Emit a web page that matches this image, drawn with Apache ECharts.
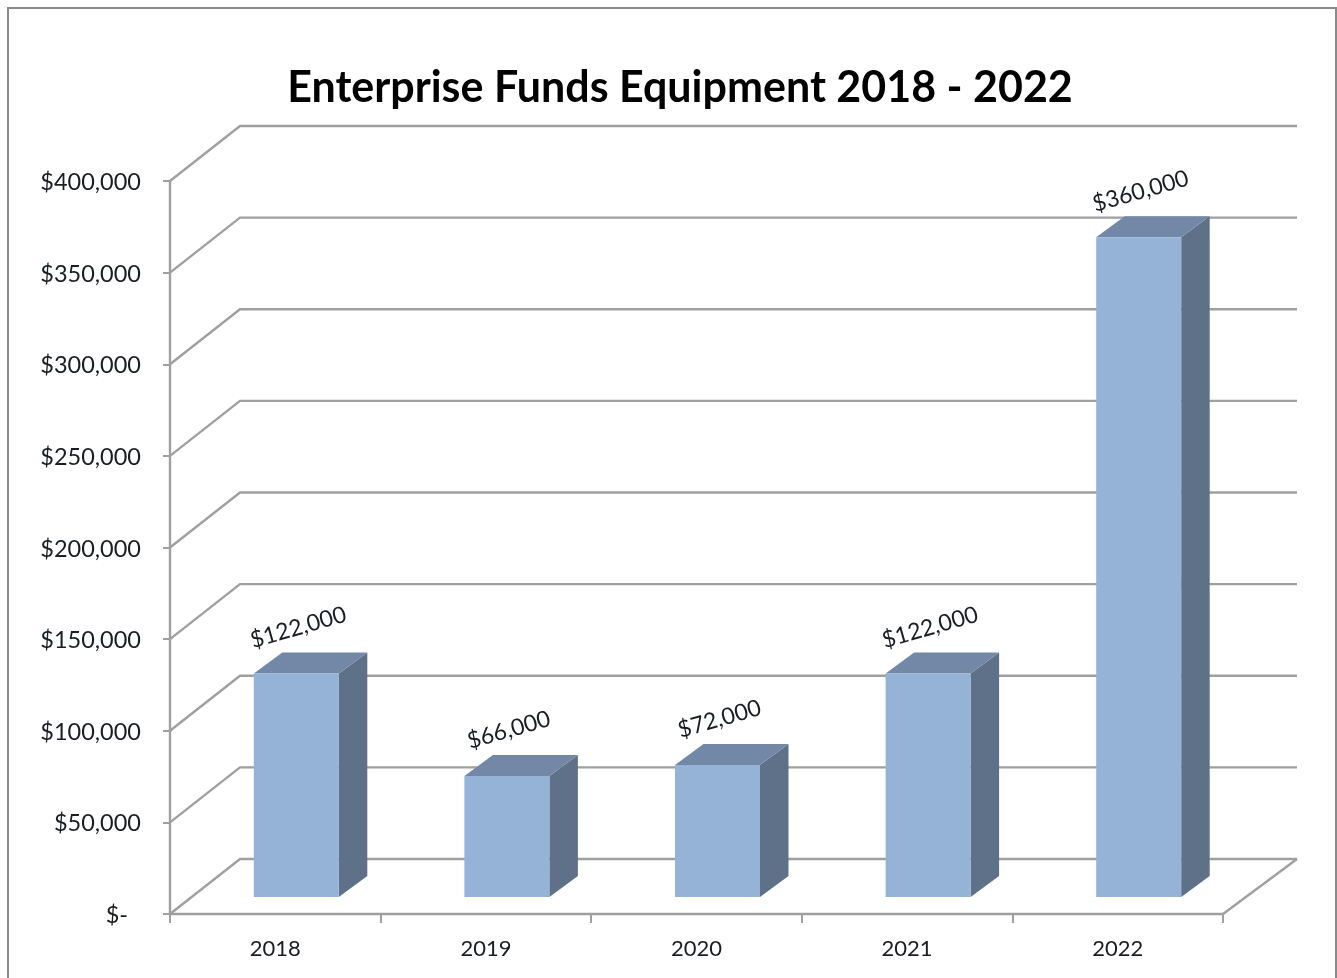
<!DOCTYPE html>
<html>
<head>
<meta charset="utf-8">
<style>html,body{margin:0;padding:0;background:#fff}#c{width:1337px;height:978px}</style>
<script src="https://cdn.jsdelivr.net/npm/echarts@6/dist/echarts.min.js"></script>
</head>
<body>
<div id="c"></div>
<script>
const titleText = 'Enterprise Funds Equipment 2018 - 2022';
const categories = ['2018', '2019', '2020', '2021', '2022'];
const values = [122000, 66000, 72000, 122000, 360000];
const valueLabels = ['$122,000', '$66,000', '$72,000', '$122,000', '$360,000'];
const tickValues = [0, 50000, 100000, 150000, 200000, 250000, 300000, 350000, 400000];

const FONT = 'Lato';
const GRID_COLOR = '#a0a0a0';
const TEXT = '#1a1e24';
const wallLeftDx = 70, wallRightDx = 74, wallDy = 55;
const barDx = 21, barDy = 17, barW = 85, depthX = 28.5, depthY = 21;

const chart = echarts.init(document.getElementById('c'), null, {renderer: 'canvas'});

function renderWall(params, api) {
  const cs = params.coordSys;
  const p = api.coord([0, api.value(1)]);
  const xL = cs.x, xR = cs.x + cs.width, y = p[1];
  const lineStyle = {stroke: GRID_COLOR, lineWidth: 2.4, fill: null};
  const children = [{
    type: 'polyline',
    shape: {points: [[xL, y], [xL + wallLeftDx, y - wallDy], [xR + wallRightDx, y - wallDy]]},
    style: lineStyle, silent: true
  }];
  if (api.value(1) === 0) {
    children.push({
      type: 'line',
      shape: {x1: xR, y1: y, x2: xR + wallRightDx, y2: y - wallDy},
      style: lineStyle, silent: true
    });
  }
  return {type: 'group', children};
}

function renderBar(params, api) {
  const i = api.value(0);
  const top = api.coord([i, api.value(1)]);
  const base = api.coord([i, 0]);
  const cx = top[0] + barDx;
  const x0 = cx - barW / 2, x1 = cx + barW / 2;
  const yTop = top[1] - barDy, yB = base[1] - barDy;
  const front = [[x0, yTop], [x1, yTop], [x1, yB], [x0, yB]];
  const topFace = [[x0, yTop], [x0 + depthX, yTop - depthY], [x1 + depthX, yTop - depthY], [x1, yTop]];
  const side = [[x1, yTop], [x1 + depthX, yTop - depthY], [x1 + depthX, yB - depthY], [x1, yB]];
  return {
    type: 'group',
    children: [
      {type: 'polygon', shape: {points: side}, style: {fill: '#5f7189'}},
      {type: 'polygon', shape: {points: topFace}, style: {fill: '#7388a6'}},
      {type: 'polygon', shape: {points: front}, style: {fill: '#95b3d7'}},
      {
        type: 'text', x: cx + 2, y: yTop - 46, rotation: 16 * Math.PI / 180,
        style: {
          text: valueLabels[params.dataIndex], fill: TEXT,
          font: '23px ' + FONT, align: 'center', verticalAlign: 'middle'
        }
      }
    ]
  };
}

chart.setOption({
  animation: false,
  backgroundColor: '#ffffff',
  title: {
    text: titleText, left: 675, top: 62, textAlign: 'center',
    textStyle: {fontFamily: FONT, fontWeight: 'bold', fontSize: 43, color: '#000000'}
  },
  grid: {left: 170, right: 114, top: 181, bottom: 64, containLabel: false},
  xAxis: {
    type: 'category', data: categories, boundaryGap: true,
    axisLine: {lineStyle: {color: GRID_COLOR, width: 2.4}},
    axisTick: {show: true, length: 9, alignWithLabel: false, lineStyle: {color: GRID_COLOR, width: 2}},
    axisLabel: {fontFamily: FONT, fontSize: 22, color: TEXT, margin: 24},
    splitLine: {show: false}
  },
  yAxis: {
    type: 'value', min: 0, max: 400000, interval: 50000,
    axisLine: {show: true, lineStyle: {color: GRID_COLOR, width: 2.4}},
    axisTick: {show: true, length: 7, lineStyle: {color: GRID_COLOR, width: 2}},
    splitLine: {show: false},
    axisLabel: {
      fontFamily: FONT, fontSize: 23.5, color: TEXT, margin: 29, padding: [3, 0, 0, 0],
      formatter: function (v) {
        return v === 0 ? '{z|$-}' : '$' + v.toLocaleString('en-US');
      },
      rich: {z: {fontFamily: FONT, fontSize: 23.5, color: TEXT, padding: [0, 13, 0, 0]}}
    }
  },
  series: [
    {
      type: 'custom', name: 'walls', silent: true, z: 1,
      coordinateSystem: 'cartesian2d', encode: {x: 0, y: 1},
      data: tickValues.map(v => [0, v]), renderItem: renderWall
    },
    {
      type: 'custom', name: 'Equipment', silent: true, z: 3,
      coordinateSystem: 'cartesian2d', encode: {x: 0, y: 1},
      data: values.map((v, i) => [i, v]), renderItem: renderBar
    }
  ],
  graphic: [{
    type: 'rect', silent: true, z: 100,
    shape: {x: 8, y: 8, width: 1328, height: 1000},
    style: {fill: null, stroke: '#8a8a8a', lineWidth: 2}
  }]
});
</script>
</body>
</html>
